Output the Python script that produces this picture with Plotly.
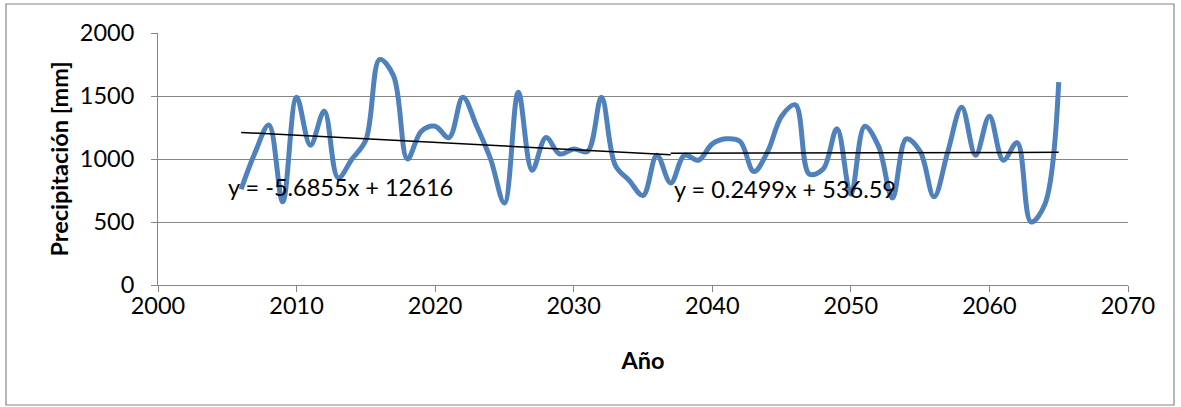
import plotly.graph_objects as go

# Annual precipitation series
years = list(range(2006, 2066))
precip = [
    760, 1050, 1270, 660, 1490, 1110, 1380, 850, 1000, 1150,
    1790, 1660, 1000, 1220, 1260, 1170, 1490, 1260, 1000, 650,
    1530, 910, 1170, 1040, 1080, 1060, 1490, 950, 830, 710,
    1030, 810, 1030, 990, 1120, 1160, 1140, 900, 1060, 1340,
    1430, 880, 920, 1240, 720, 1260, 1100, 690, 1160, 1060,
    700, 1060, 1410, 1030, 1340, 990, 1130, 500, 640, 1610,
]

# Linear trends for the two periods (slope, intercept, x range)
trend1 = (-5.6855, 12616, 2006, 2037)
trend2 = (0.2499, 536.59, 2037, 2065)
trend1_label = "y = -5.6855x + 12616"
trend2_label = "y = 0.2499x + 536.59"

W, H = 1181, 407
ML, MR, MT, MB = 158, 53, 33, 122
FONT = "Lato"
FS = 23.5

fig = go.Figure()
fig.add_trace(go.Scatter(
    x=years, y=precip, mode="lines",
    line=dict(color="#4F81BD", width=5, shape="spline", smoothing=1.0),
    showlegend=False, hoverinfo="skip",
))

for slope, icpt, x0, x1 in (trend1, trend2):
    xs = [x0, x1]
    fig.add_trace(go.Scatter(
        x=xs, y=[slope * v + icpt for v in xs], mode="lines",
        line=dict(color="black", width=1.5),
        showlegend=False, hoverinfo="skip",
    ))

fig.add_annotation(x=2004.9, y=775, text=trend1_label, showarrow=False,
                   xanchor="left", yanchor="middle",
                   font=dict(family=FONT, size=FS, color="black"))
fig.add_annotation(x=2037.1, y=765, text=trend2_label, showarrow=False,
                   xanchor="left", yanchor="middle",
                   font=dict(family=FONT, size=FS, color="black"))

# outer chart border
pw = W - ML - MR
ph = H - MT - MB
fig.add_shape(type="rect", xref="paper", yref="paper",
              x0=(6 - ML) / pw, x1=(W - 7 - ML) / pw,
              y0=(H - MB - 405) / ph, y1=(H - MB - 4) / ph,
              line=dict(color="#868686", width=1.2), fillcolor="rgba(0,0,0,0)",
              layer="below")

axis_common = dict(
    showline=True, linecolor="#868686", linewidth=1,
    ticks="outside", ticklen=6, tickcolor="#868686", tickwidth=1,
    tickfont=dict(family=FONT, size=FS, color="black"),
    zeroline=False,
)

fig.update_layout(
    width=W, height=H,
    margin=dict(l=ML, r=MR, t=MT, b=MB),
    paper_bgcolor="white", plot_bgcolor="white",
    xaxis=dict(range=[2000, 2070], dtick=10, tick0=2000, showgrid=False,
               ticklabelstandoff=-6,
               title=dict(text="<b>Año</b>", font=dict(family=FONT, size=FS, color="black"),
                          standoff=34),
               **axis_common),
    yaxis=dict(range=[0, 2000], dtick=500, showgrid=True, gridcolor="#868686",
               gridwidth=1, ticklabelstandoff=12,
               title=dict(text="<b>Precipitación [mm]</b>",
                          font=dict(family=FONT, size=FS, color="black"),
                          standoff=4),
               **axis_common),
)

fig.write_html("out.html")
